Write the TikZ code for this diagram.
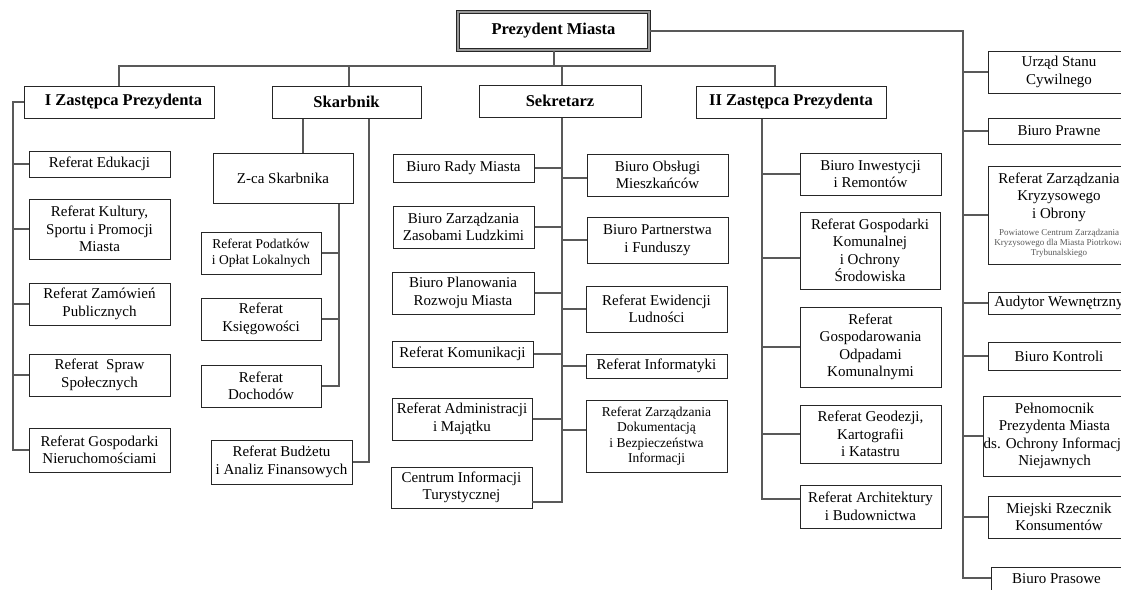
\documentclass[tikz,border=0pt]{standalone}
\usepackage{fontspec}
\setmainfont{Liberation Serif}
\usetikzlibrary{calc}
\tikzset{
  box/.style={draw=black!85, line width=1pt, fill=white, align=center, inner sep=0pt,
    font=\fontsize{15}{17.5}\selectfont},
  smallbox/.style={box, font=\fontsize{13.5}{15.5}\selectfont},
  head/.style={box, font=\fontsize{16.5}{19}\selectfont\bfseries},
  top/.style={head, draw=black!85, line width=1.1pt, double=black!40, double distance=1.4pt},
  link/.style={draw=black!65, line width=1.4pt},
}
\newcommand\bx[7][box]{\node[#1, minimum width={(#5-#3)*1pt}, minimum height={(#6-#4)*1pt}] (#2) at ({(#3+#5)/2},{(#4+#6)/2}) {#7};}
\newcommand\smallgray[1]{{\fontsize{9}{10}\selectfont\color{black!65}#1}}
\begin{document}
\begin{tikzpicture}[x=1pt,y=-1pt]
\useasboundingbox (0,0) rectangle (1121,589);
\clip (0,0) rectangle (1121,589);
\fill[white] (0,0) rectangle (1121,589);

% heads
\bx[top]{pm}{458}{12}{649}{50}{Prezydent Miasta}
\bx[head]{iz}{24}{86}{214}{118}{\hspace*{9pt}I Zastępca Prezydenta}
\bx[head]{sk}{272}{86}{421}{118}{Skarbnik}
\bx[head]{se}{479}{85}{641}{117}{Sekretarz}
\bx[head]{iiz}{696}{86}{886}{118}{II Zastępca Prezydenta}

% I Zastepca
\bx{r1}{29}{151}{170}{177}{Referat Edukacji}
\bx{r2}{29}{199}{170}{259}{Referat Kultury,\\Sportu i Promocji\\Miasta}
\bx{r3}{29}{283}{170}{325}{Referat Zamówień\\Publicznych}
\bx{r4}{29}{354}{170}{396}{Referat~ Spraw\\Społecznych}
\bx{r5}{29}{428}{170}{472}{Referat Gospodarki\\Nieruchomościami}

% Skarbnik
\bx{zca}{213}{153}{353}{203}{Z-ca Skarbnika}
\bx[smallbox]{rpod}{201}{232}{321}{274}{Referat Podatków\\i Opłat Lokalnych}
\bx{rks}{201}{298}{321}{340}{Referat\\Księgowości}
\bx{rdoch}{201}{365}{321}{407}{Referat\\Dochodów}
\bx{rbud}{211}{440}{352}{484}{Referat Budżetu\\i Analiz Finansowych}

% Sekretarz left
\bx{brm}{393}{154}{534}{182}{Biuro Rady Miasta}
\bx{bzz}{393}{206}{534}{248}{Biuro Zarządzania\\Zasobami Ludzkimi}
\bx{bpl}{392}{272}{534}{314}{Biuro Planowania\\Rozwoju Miasta}
\bx{rkom}{392}{341}{533}{367}{Referat Komunikacji}
\bx{radm}{392}{398}{532}{440}{Referat Administracji\\i Majątku}
\bx{cit}{391}{467}{532}{508}{Centrum Informacji\\Turystycznej}
% Sekretarz right
\bx{bom}{587}{154}{728}{196}{Biuro Obsługi\\Mieszkańców}
\bx{bpf}{587}{217}{728}{263}{Biuro Partnerstwa\\i Funduszy}
\bx{rew}{586}{286}{727}{332}{Referat Ewidencji\\Ludności}
\bx{rinf}{586}{354}{727}{378}{Referat Informatyki}
\bx[smallbox]{rzd}{586}{400}{727}{472}{Referat Zarządzania\\Dokumentacją\\i Bezpieczeństwa\\Informacji}

% II Zastepca
\bx{bir}{800}{153}{941}{195}{Biuro Inwestycji\\i Remontów}
\bx{rgk}{800}{212}{940}{289}{Referat Gospodarki\\Komunalnej\\i Ochrony\\Środowiska}
\bx{rgo}{800}{307}{941}{387}{Referat\\Gospodarowania\\Odpadami\\Komunalnymi}
\bx{rgeo}{800}{405}{941}{463}{Referat Geodezji,\\Kartografii\\i Katastru}
\bx{rarch}{800}{485}{941}{528}{Referat Architektury\\i Budownictwa}

% right column
\bx{usc}{988}{51}{1130}{93}{Urząd Stanu\\Cywilnego}
\bx{bpraw}{988}{118}{1130}{144}{Biuro Prawne}
\bx{rzk}{988}{166}{1130}{264}{Referat Zarządzania\\Kryzysowego\\i Obrony\\[0pt]\smallgray{Powiatowe Centrum Zarządzania}\\[-7.5pt]\smallgray{Kryzysowego dla Miasta Piotrkowa}\\[-7.5pt]\smallgray{Trybunalskiego}}
\bx{aud}{988}{292}{1130}{314}{Audytor Wewnętrzny}
\bx{bk}{988}{342}{1130}{370}{Biuro Kontroli}
\bx{pel}{987}{396}{1122}{476}{Pełnomocnik\\Prezydenta Miasta\\ds. Ochrony Informacji\\Niejawnych}
\bx{mrk}{988}{496}{1130}{538}{Miejski Rzecznik\\Konsumentów}
\bx{bpr}{991}{567}{1122}{600}{\raisebox{9pt}{Biuro Prasowe}}

% connectors: top bus
\coordinate (xPm) at (554,66);
\coordinate (xSk) at (349,66);
\coordinate (xSe) at (562,66);
\coordinate (xIIZ) at (775,66);
\draw[link] (pm.south -| xPm) -- (xPm);
\draw[link] (iz.north) |- (xIIZ) -- (xIIZ |- iiz.north);
\draw[link] (xSk) -- (xSk |- sk.north);
\draw[link] (xSe) -- (xSe |- se.north);

% I Zastepca
\coordinate (xL) at (13,0);
\draw[link] (iz.west) -| (xL |- r5.west) -- (r5.west);
\foreach \n in {r1,r2,r3,r4} \draw[link] (\n.west) -- (\n.west -| xL);

% Skarbnik
\coordinate (xS1) at (303,0);
\coordinate (xS2) at (369,0);
\coordinate (xS3) at (339,0);
\draw[link] (xS1 |- sk.south) -- (xS1 |- zca.north);
\draw[link] (xS2 |- sk.south) |- (rbud.east);
\draw[link] (xS3 |- zca.south) |- (rdoch.east);
\foreach \n in {rpod,rks} \draw[link] (\n.east) -- (\n.east -| xS3);

% Sekretarz
\coordinate (citb) at (532,502);
\draw[link] (xSe |- se.south) |- (citb);
\foreach \n in {brm,bzz,bpl,rkom,radm} \draw[link] (\n.east) -- (\n.east -| xSe);
\coordinate (bomb) at (562,178);
\coordinate (rzdb) at (562,430);
\draw[link] (bomb) -- (bomb -| bom.west);
\draw[link] (rzdb) -- (rzdb -| rzd.west);
\foreach \n in {bpf,rew,rinf} \draw[link] (\n.west) -- (\n.west -| xSe);

% II Zastepca
\coordinate (xII) at (762,0);
\coordinate (rgkb) at (762,258);
\coordinate (rarchb) at (762,499);
\draw[link] (xII |- iiz.south) -- (rarchb) -- (rarchb -| rarch.west);
\draw[link] (rgkb) -- (rgkb -| rgk.west);
\foreach \n in {bir,rgo,rgeo} \draw[link] (\n.west) -- (\n.west -| xII);

% right column
\coordinate (xR) at (963,0);
\coordinate (bprb) at (963,578);
\draw[link] (pm.east) -| (bprb) -- (bprb -| bpr.west);
\foreach \n in {usc,bpraw,rzk,aud,bk,pel,mrk} \draw[link] (\n.west) -- (\n.west -| xR);
\end{tikzpicture}
\end{document}
